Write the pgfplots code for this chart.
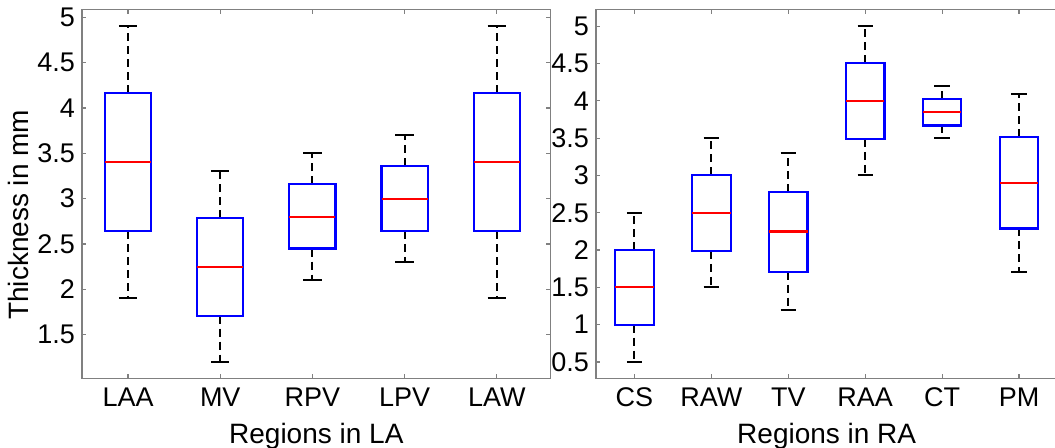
\documentclass[border=0pt]{standalone}
\usepackage{fontspec}
\setmainfont{Liberation Sans}
\usepackage{pgfplots}
\pgfplotsset{compat=1.18}
\usepgfplotslibrary{statistics}

\pgfplotsset{
  mlbox/.style={
    scale only axis,
    height=184.6pt,
    font=\fontsize{13.5}{16}\selectfont,
    tick label style={font=\fontsize{13.5}{16}\selectfont},
    /pgf/number format/assume math mode=true,
    axis line style={black!50, line width=0.6pt},
    tick style={black!50, line width=0.6pt},
    tick align=inside,
    major tick length=2.2pt,
    xtick pos=both, ytick pos=both,
    ytick distance=0.5,
    xticklabel style={yshift=-1pt},
    xlabel style={font=\fontsize{14}{16}\selectfont},
    ylabel style={font=\fontsize{14}{16}\selectfont},
    xlabel shift=1.5pt,
    ylabel shift=-2.5pt,
    boxplot/draw direction=y,
    boxplot/box extend=0.5,
    boxplot/whisker extend=0.2,
    boxplot/every box/.style={draw=blue, line width=1.1pt},
    boxplot/every median/.style={draw=red, line width=1.1pt},
    boxplot/every whisker/.style={draw=black, line width=1pt, dash pattern=on 4pt off 2.5pt},
    boxplot/draw/lower whisker/.code={
      \draw[/pgfplots/boxplot/every whisker/.try]
        (boxplot box cs:\pgfplotsboxplotvalue{lower quartile},0.5)
        -- (boxplot box cs:\pgfplotsboxplotvalue{lower whisker},0.5);
      \draw[black, line width=1pt]
        (boxplot whisker cs:\pgfplotsboxplotvalue{lower whisker},0)
        -- (boxplot whisker cs:\pgfplotsboxplotvalue{lower whisker},1);
    },
    boxplot/draw/upper whisker/.code={
      \draw[/pgfplots/boxplot/every whisker/.try]
        (boxplot box cs:\pgfplotsboxplotvalue{upper quartile},0.5)
        -- (boxplot box cs:\pgfplotsboxplotvalue{upper whisker},0.5);
      \draw[black, line width=1pt]
        (boxplot whisker cs:\pgfplotsboxplotvalue{upper whisker},0)
        -- (boxplot whisker cs:\pgfplotsboxplotvalue{upper whisker},1);
    },
  },
}

% lw, lq, med, uq, uw
\newcommand{\bx}[6]{%
  \addplot[boxplot prepared={draw position=#1, lower whisker=#2,
    lower quartile=#3, median=#4, upper quartile=#5, upper whisker=#6}]
    coordinates {};}

\begin{document}
\begin{tikzpicture}
\begin{axis}[mlbox,
  at={(41pt,-4.75pt)}, anchor=north west,
  width=234.35pt,
  xmin=0.5, xmax=5.585, ymin=1.015, ymax=5.085,
  xtick={1,2,3,4,5},
  xticklabels={LAA,MV,RPV,LPV,LAW},
  xlabel={Regions in LA},
  ylabel={Thickness in mm},
  ylabel style={at={(ticklabel cs:0.444)}},
]
\bx{1}{1.90}{2.64}{3.40}{4.165}{4.90}
\bx{2}{1.20}{1.71}{2.25}{2.785}{3.30}
\bx{3}{2.10}{2.45}{2.80}{3.16}{3.50}
\bx{4}{2.30}{2.645}{3.00}{3.36}{3.70}
\bx{5}{1.90}{2.64}{3.40}{4.165}{4.90}
\end{axis}

% right edge of this axis lies just beyond the cropped picture
\begin{axis}[mlbox,
  at={(298pt,-4.75pt)}, anchor=north west,
  width=232.1pt,
  ytick pos=left,
  xmin=0.5, xmax=6.535, ymin=0.275, ymax=5.225,
  xtick={1,2,3,4,5,6},
  xticklabels={CS,RAW,TV,RAA,CT,PM},
  xlabel={Regions in RA},
  xlabel style={at={(ticklabel cs:0.497)}},
]
\bx{1}{0.50}{1.00}{1.50}{2.00}{2.50}
\bx{2}{1.50}{1.99}{2.50}{3.01}{3.50}
\bx{3}{1.20}{1.71}{2.25}{2.78}{3.30}
\bx{4}{3.00}{3.49}{4.00}{4.51}{5.00}
\bx{5}{3.50}{3.67}{3.85}{4.03}{4.20}
\bx{6}{1.70}{2.29}{2.90}{3.52}{4.09}
\end{axis}
\pgfresetboundingbox
\useasboundingbox (0pt,0pt) rectangle (527.5pt,-223.5pt);
\end{tikzpicture}
\end{document}
